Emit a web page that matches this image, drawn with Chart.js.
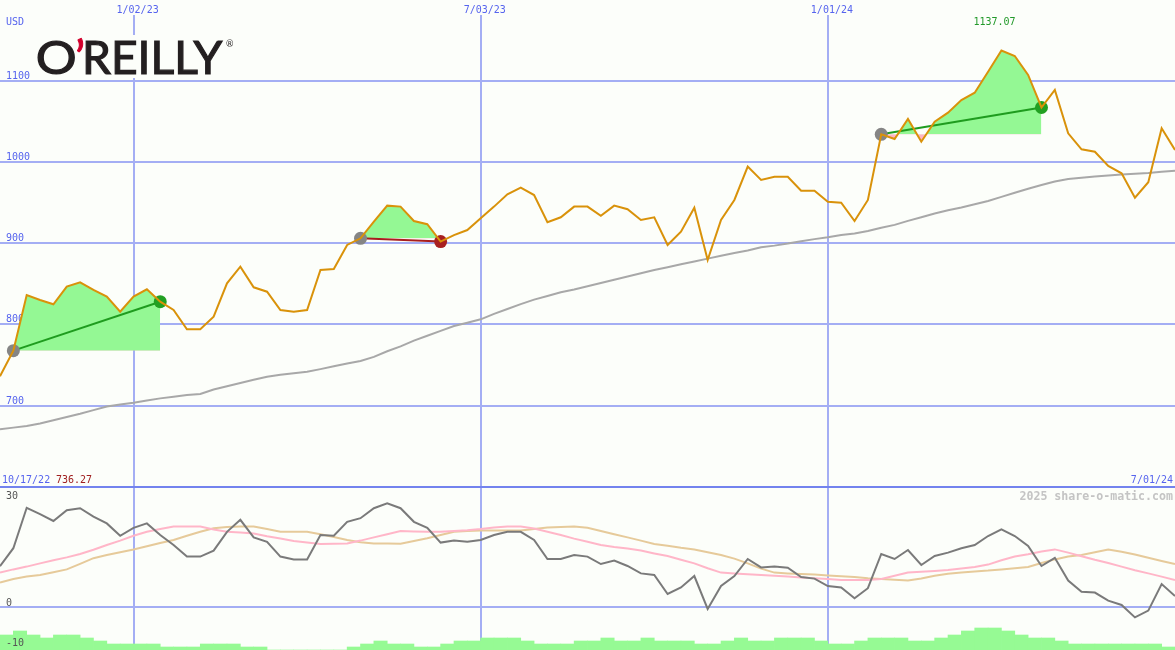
<!DOCTYPE html>
<html>
<head>
<meta charset="utf-8">
<title>O'Reilly share chart</title>
<script src="https://cdn.jsdelivr.net/npm/chart.js@4.4.1/dist/chart.umd.min.js"></script>
<style>
  html, body { margin: 0; padding: 0; background: #fcfefa; overflow: hidden; }
  #wrap { width: 1175px; height: 650px; }
</style>
</head>
<body>
<div id="wrap"><canvas id="chart" width="1175" height="650"></canvas></div>
<script>
// weekly closes, 10/17/22 .. 7/01/24
const closes = [
    736.27, 767.7, 836.2, 830.0, 824.8, 846.5, 851.8, 842.4, 834.2, 815.7,
    834.2, 843.2, 828.0, 817.8, 794.0, 794.0, 809.5, 850.6, 871.0, 845.7,
    840.3, 817.8, 815.7, 817.8, 867.0, 868.2, 897.8, 906.0, 926.5, 946.2,
    945.0, 927.3, 923.3, 902.0, 910.0, 916.2, 930.6, 945.0, 960.2, 968.3,
    959.3, 925.7, 931.9, 945.0, 945.0, 933.8, 946.2, 941.8, 928.6, 931.9,
    897.8, 914.2, 943.7, 879.3, 928.6, 953.2, 994.2, 977.8, 981.8, 981.8,
    964.6, 964.6, 951.1, 949.8, 927.3, 953.2, 1034.0, 1028.2, 1052.9, 1024.9,
    1049.5, 1060.6, 1076.2, 1085.2, 1111.1, 1137.07, 1130.4, 1107.0, 1067.0, 1088.6,
    1035.2, 1015.5, 1012.6, 995.0, 986.0, 956.0, 975.0, 1041.4, 1014.7
];
// long moving average
const longAvg = [
    671, 673, 675, 678, 682, 686, 690, 694.5, 699, 701.5,
    703.7, 706.5, 709, 711, 713, 714.4, 720, 724, 728, 732,
    735.7, 738, 740, 741.8, 745, 748.5, 752, 755, 760, 767,
    773, 780, 786, 792, 798, 802, 806.3, 813, 819, 825,
    830.5, 835, 839.5, 843, 847, 851, 855, 859, 863, 867,
    870.5, 874, 877.5, 881, 884.5, 888, 891, 895, 897, 899.5,
    902.5, 905, 907.3, 910, 912, 915, 919, 922.5, 927.5, 932,
    936.5, 940.5, 944, 948, 952, 957, 962, 967, 971.5, 976,
    979, 980.5, 982, 983.2, 984.5, 985.5, 986.5, 988, 989.2
];
// lower panel oscillator lines
const oscFast = [
    10.2, 14.7, 24.8, 23.2, 21.5, 24.2, 24.7, 22.6, 20.9, 17.8,
    19.8, 20.9, 18, 15.5, 12.6, 12.6, 14.1, 18.8, 21.8, 17.4,
    16.3, 12.6, 11.9, 11.9, 18, 17.8, 21.3, 22.2, 24.7, 25.9,
    24.7, 21.3, 19.8, 16.1, 16.6, 16.3, 16.75, 18, 18.8, 18.8,
    16.75, 12, 12, 13, 12.6, 10.75, 11.6, 10.25, 8.4, 8,
    3.25, 4.9, 7.75, -0.5, 5.25, 7.75, 12, 9.9, 10.1, 9.8,
    7.5, 7.1, 5.25, 4.9, 2.2, 4.7, 13.25, 12, 14.25, 10.5,
    12.75, 13.6, 14.7, 15.5, 17.75, 19.4, 17.75, 15.25, 10.25, 12.3,
    6.6, 3.8, 3.6, 1.6, 0.5, -2.6, -0.9, 5.75, 2.75
];
const oscMid = [
    8.6, 9.4, 10.1, 10.9, 11.7, 12.4, 13.25, 14.3, 15.5, 16.6,
    17.8, 18.8, 19.5, 20.1, 20.1, 20.1, 19.4, 18.8, 18.6, 18.4,
    17.7, 17.1, 16.5, 16.1, 15.75, 15.8, 15.9, 16.6, 17.4, 18.2,
    19, 18.9, 18.8, 18.8, 19, 19.2, 19.5, 19.9, 20.1, 20.1,
    19.6, 18.8, 18, 17.1, 16.3, 15.5, 15, 14.6, 14.1, 13.4,
    12.75, 11.8, 10.9, 9.7, 8.6, 8.4, 8.2, 8, 7.8, 7.6,
    7.4, 7.2, 7, 6.75, 6.75, 6.75, 7, 7.8, 8.6, 8.8,
    9, 9.25, 9.6, 10, 10.6, 11.7, 12.6, 13.2, 13.9, 14.4,
    13.6, 12.7, 11.8, 11, 10.1, 9.2, 8.4, 7.6, 6.75
];
const oscSlow = [
    6.1, 7, 7.6, 8, 8.7, 9.4, 10.8, 12.2, 13, 13.7,
    14.4, 15.2, 16, 16.75, 17.8, 18.8, 19.7, 20, 20.1, 20.1,
    19.5, 18.8, 18.8, 18.8, 18.2, 17.5, 16.75, 16.2, 15.9, 15.9,
    15.8, 16.5, 17.2, 18, 18.8, 19, 19.1, 19.1, 19.1, 19.1,
    19.5, 19.9, 20, 20.1, 19.8, 19, 18.2, 17.4, 16.6, 15.75,
    15.3, 14.8, 14.4, 13.7, 13, 12.1, 10.9, 9.6, 8.6, 8.4,
    8.25, 8.1, 7.9, 7.7, 7.5, 7.2, 7, 6.8, 6.6, 7.1,
    7.8, 8.3, 8.6, 8.9, 9.1, 9.4, 9.7, 10, 11, 11.9,
    12.6, 13, 13.7, 14.4, 13.8, 13.1, 12.3, 11.5, 10.75
];
// volume, one bar per week (relative)
const volume = [
    15, 19, 15, 12, 15, 15, 12, 9, 6, 6,
    6, 6, 3, 3, 3, 6, 6, 6, 3, 3,
    0, 0, 0, 0, 0, 0, 3, 6, 9, 6,
    6, 3, 3, 6, 9, 9, 12, 12, 12, 9,
    6, 6, 6, 9, 9, 12, 9, 9, 12, 9,
    9, 9, 6, 6, 9, 12, 9, 9, 12, 12,
    12, 9, 6, 6, 9, 12, 12, 12, 9, 9,
    12, 15, 19, 22, 22, 19, 15, 12, 12, 9,
    6, 6, 6, 6, 6, 6, 6, 3
];
const priceTicks = [700, 800, 900, 1000, 1100];
const oscTicks = [0, 30];
const oscLabels = [30, 0, -10];
const dateTicks = [10, 36, 62];
const dateTickLabels = ['1/02/23', '7/03/23', '1/01/24'];
const firstDate = '10/17/22';
const lastDate = '7/01/24';
// trades (week index of entry / exit)
const tradeEntry = [1, 27, 66];
const tradeExit = [12, 33, 78];

const BG = '#fcfefa';
const GRID = '#a4aef4';
const SEP = '#7383ee';
const BLUE = '#5664ee';
const FONT = '10px "DejaVu Sans Mono", monospace';
const GREEN_FILL = '#94f894';
const PINK_FILL = '#ffb4c4';

const pts = arr => arr.map((v, i) => ({ x: i, y: v }));

const datasets = [];
datasets.push({
    type: 'bar', label: 'volume', yAxisID: 'yV',
    data: volume.map((v, i) => ({ x: i + 0.5, y: v })),
    backgroundColor: '#96fa94', borderWidth: 0,
    barPercentage: 1, categoryPercentage: 1, order: 20
});
datasets.push({ type: 'line', label: 'slow', yAxisID: 'yO', data: pts(oscSlow), borderColor: '#e6ca9a', borderWidth: 2, pointRadius: 0, order: 19 });
datasets.push({ type: 'line', label: 'mid', yAxisID: 'yO', data: pts(oscMid), borderColor: '#ffb6c8', borderWidth: 2, pointRadius: 0, order: 18 });
datasets.push({ type: 'line', label: 'fast', yAxisID: 'yO', data: pts(oscFast), borderColor: '#7a7a7a', borderWidth: 2, pointRadius: 0, order: 17 });
datasets.push({ type: 'line', label: 'avg', yAxisID: 'yP', data: pts(longAvg), borderColor: '#a8a8a8', borderWidth: 2, pointRadius: 0, order: 16 });

tradeEntry.forEach((e, k) => {
    const x1 = tradeExit[k];
    const win = closes[x1] >= closes[e];
    datasets.push({
        type: 'line', label: 'area' + k, yAxisID: 'yP',
        data: closes.slice(e, x1 + 1).map((v, j) => ({ x: e + j, y: v })),
        borderColor: 'rgba(0,0,0,0)', borderWidth: 0, pointRadius: 0,
        fill: { target: { value: closes[e] }, above: GREEN_FILL, below: PINK_FILL },
        order: 10
    });
    const col = win ? '#1f9c1f' : '#a81e1e';
    datasets.push({
        type: 'line', label: 'trade' + k, yAxisID: 'yP',
        data: [{ x: e, y: closes[e] }, { x: x1, y: closes[x1] }],
        borderColor: col, borderWidth: 2,
        pointRadius: 6.5, pointBorderWidth: 0,
        pointBackgroundColor: ['#858585', win ? '#22a022' : '#a82020'],
        order: 5
    });
});
datasets.push({ type: 'line', label: 'close', yAxisID: 'yP', data: pts(closes), borderColor: '#d9920a', borderWidth: 2, pointRadius: 0, order: 1 });

// fit the ink of a string into a given width, with a thin outline to thicken the strokes
function inkText(ctx, text, x, baseline, width, outline) {
    const m = ctx.measureText(text);
    const w = m.actualBoundingBoxLeft + m.actualBoundingBoxRight;
    const sx = width / w;
    ctx.save();
    ctx.translate(x, baseline);
    ctx.scale(sx, 1);
    ctx.fillText(text, m.actualBoundingBoxLeft, 0);
    if (outline) {
        ctx.strokeStyle = ctx.fillStyle;
        ctx.lineWidth = outline;
        ctx.strokeText(text, m.actualBoundingBoxLeft, 0);
    }
    ctx.restore();
}

const textPlugin = {
    id: 'textPlugin',
    beforeDatasetsDraw(chart) {
        const ctx = chart.ctx;
        const yP = chart.scales.yP;
        ctx.save();
        ctx.font = FONT;
        ctx.fillStyle = BLUE;
        ctx.textAlign = 'left';
        ctx.textBaseline = 'alphabetic';
        priceTicks.forEach(v => ctx.fillText(String(v), 6, Math.round(yP.getPixelForValue(v)) - 2));
        ctx.restore();
    },
    afterDraw(chart) {
        const ctx = chart.ctx;
        const x = chart.scales.x;
        const yO = chart.scales.yO;
        ctx.save();
        ctx.font = FONT;
        ctx.textBaseline = 'alphabetic';

        // date labels along the top
        dateTicks.forEach((d, i) => {
            const px = x.getPixelForValue(d);
            ctx.fillStyle = BG;
            ctx.fillRect(px - 20, 0, 46, 15);
            ctx.fillStyle = BLUE;
            ctx.textAlign = 'left';
            ctx.fillText(dateTickLabels[i], px - 17, 13);
        });
        ctx.fillStyle = BLUE;
        ctx.fillText('USD', 6, 25);

        // first / last date, low close
        const lo = Math.min(...closes);
        const hiIdx = closes.indexOf(Math.max(...closes));
        ctx.fillText(firstDate, 2, 483);
        ctx.fillStyle = '#a02020';
        ctx.fillText(lo.toFixed(2), 56, 483);
        ctx.fillStyle = BLUE;
        ctx.textAlign = 'right';
        ctx.fillText(lastDate, 1173, 483);

        // high close
        ctx.textAlign = 'left';
        ctx.fillStyle = '#22992a';
        ctx.fillText(closes[hiIdx].toFixed(2), x.getPixelForValue(hiIdx) - 28, 25);

        // oscillator labels
        ctx.fillStyle = '#555555';
        oscLabels.forEach(v => {
            const py = yO.getPixelForValue(v);
            const base = v === 30 ? py + 12 : py - 1;
            ctx.fillText(String(v), 6, base);
        });

        // watermark
        ctx.font = 'bold 11.6px "DejaVu Sans Mono", monospace';
        ctx.fillStyle = '#c4c4c4';
        ctx.textAlign = 'right';
        ctx.fillText('2025 share-o-matic.com', 1173, 500);

        // logo
        ctx.fillStyle = BG;
        ctx.fillRect(34, 35, 206, 43);
        ctx.textAlign = 'left';
        ctx.font = '47px Lato, "Open Sans", sans-serif';
        ctx.fillStyle = '#231f20';
        inkText(ctx, 'O', 38, 74, 37, 1.2);
        inkText(ctx, 'REILLY', 86, 74, 137, 1.2);
        ctx.fillStyle = '#d2002c';
        inkText(ctx, '\u2019', 77, 74, 6, 1);
        ctx.fillStyle = '#231f20';
        ctx.font = '9px Lato, sans-serif';
        ctx.fillText('\u00ae', 226, 47);
        ctx.restore();
    }
};

const hiddenAxis = {
    display: true,
    position: 'left',
    ticks: { display: false },
    border: { display: false },
    grid: { drawTicks: false, color: GRID, lineWidth: 2 },
    afterFit: s => { s.width = 0; }
};

new Chart(document.getElementById('chart'), {
    data: { datasets },
    options: {
        responsive: false,
        animation: false,
        devicePixelRatio: 1,
        events: [],
        layout: { padding: 0, autoPadding: false },
        elements: { line: { tension: 0 } },
        plugins: { legend: { display: false }, tooltip: { enabled: false } },
        scales: {
            x: {
                type: 'linear', min: 0, max: closes.length - 1,
                offset: false,
                display: true, position: 'bottom',
                ticks: { display: false },
                border: { display: false },
                grid: { drawTicks: false, offset: false, color: GRID, lineWidth: 2 },
                afterFit: s => { s.height = 0; },
                afterBuildTicks: s => { s.ticks = dateTicks.map(v => ({ value: v })); }
            },
            yP: Object.assign({}, hiddenAxis, {
                type: 'linear', min: 399.3, max: 1199.3,
                afterBuildTicks: s => { s.ticks = priceTicks.map(v => ({ value: v })); }
            }),
            yO: Object.assign({}, hiddenAxis, {
                type: 'linear', min: -10.75, max: 151.75,
                grid: {
                    drawTicks: false, lineWidth: 2,
                    color: c => (c.tick && c.tick.value === 30 ? SEP : GRID)
                },
                afterBuildTicks: s => { s.ticks = oscTicks.map(v => ({ value: v })); }
            }),
            yV: { type: 'linear', display: false, min: 0, max: 650 }
        }
    },
    plugins: [textPlugin]
});
</script>
</body>
</html>
